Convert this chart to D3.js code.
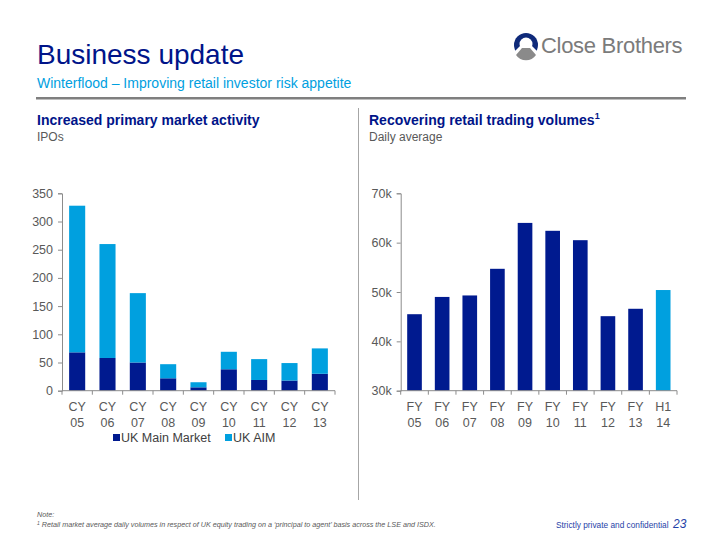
<!DOCTYPE html>
<html><head><meta charset="utf-8">
<script src="https://cdn.jsdelivr.net/npm/d3@7"></script>
<style>
html,body{margin:0;padding:0;background:#fff;}
svg{display:block;font-family:"Liberation Sans",Arial,sans-serif;}
</style></head>
<body>
<svg id="c" width="720" height="540"></svg>
<script>
// ---- data ----
const ipoYears = ["05","06","07","08","09","10","11","12","13"];
const ipoMain = [68, 58, 50, 22, 6, 38, 19, 18, 30];
const ipoAIM  = [260, 202, 123, 25, 9, 31, 37, 31, 45];
const ipoTicks = [0, 50, 100, 150, 200, 250, 300, 350];
const seriesNames = ["UK Main Market", "UK AIM"];

const volPrefix = ["FY","FY","FY","FY","FY","FY","FY","FY","FY","H1"];
const volYears  = ["05","06","07","08","09","10","11","12","13","14"];
const volValues = [45.5, 49.0, 49.3, 54.7, 64.0, 62.4, 60.5, 45.1, 46.6, 50.4];
const volTicks = [30, 40, 50, 60, 70];

const darkBlue = "#001a8f", lightBlue = "#00a0df", navy = "#001489", axisGrey = "#8c8c8c", labelGrey = "#595959";

const svg = d3.select("#c");

// ---- header ----
svg.append("text").attr("x", 37).attr("y", 64).attr("font-size", 28).attr("fill", navy).text("Business update");
svg.append("text").attr("x", 37).attr("y", 88).attr("font-size", 14).attr("fill", lightBlue)
  .text("Winterflood \u2013 Improving retail investor risk appetite");
svg.append("rect").attr("x", 36).attr("y", 97).attr("width", 650).attr("height", 2.5).attr("fill", "#7f7f7f");
svg.append("line").attr("x1", 358.5).attr("x2", 358.5).attr("y1", 108).attr("y2", 500).attr("stroke", "#a6a6a6").attr("stroke-width", 1);

// logo
const lg = svg.append("g");
lg.append("circle").attr("cx", 526).attr("cy", 45).attr("r", 12).attr("fill", "#0f2a7a");
lg.append("circle").attr("cx", 526).attr("cy", 44).attr("r", 6.5).attr("fill", "#fff");
lg.append("path").attr("d", "M514,52 L521,45 L531,45 L538,52 A12,12 0 0 1 514,52 Z").attr("fill", "#fff");
lg.append("path").attr("d", "M516,55 L522,48 L530,48 L536,55 A12,12 0 0 1 516,55 Z").attr("fill", "#8a8a8a");
svg.append("text").attr("x", 541).attr("y", 53).attr("font-size", 22).attr("fill", "#7b7b7b").attr("letter-spacing", -0.3).text("Close Brothers");

// section headers
svg.append("text").attr("x", 37).attr("y", 125).attr("font-size", 14).attr("font-weight", "bold").attr("fill", navy).text("Increased primary market activity");
svg.append("text").attr("x", 37).attr("y", 141).attr("font-size", 12).attr("fill", labelGrey).text("IPOs");
const h2 = svg.append("text").attr("x", 369).attr("y", 125).attr("font-size", 14).attr("font-weight", "bold").attr("fill", navy).text("Recovering retail trading volumes");
h2.append("tspan").attr("font-size", 9).attr("dy", -6).text("1");
svg.append("text").attr("x", 369).attr("y", 141).attr("font-size", 12).attr("fill", labelGrey).text("Daily average");

// ---- left chart ----
const L = {x0: 62, x1: 335, y0: 390.7, y1: 193.3};
const xL = d3.scaleBand().domain(ipoYears).range([L.x0, L.x1]).paddingInner(0.47).paddingOuter(0.235);
const yL = d3.scaleLinear().domain([0, 350]).range([L.y0, L.y1]);
const stackData = ipoYears.map((y, i) => ({year: y, main: ipoMain[i], aim: ipoAIM[i]}));
const stack = d3.stack().keys(["main", "aim"])(stackData);
const colors = [darkBlue, lightBlue];
const gL = svg.append("g");
stack.forEach((s, k) => {
  gL.append("g").selectAll("rect").data(s).join("rect")
    .attr("x", d => xL(d.data.year)).attr("width", xL.bandwidth())
    .attr("y", d => yL(d[1])).attr("height", d => yL(d[0]) - yL(d[1]))
    .attr("fill", colors[k]);
});
const yAxL = d3.axisLeft(yL).tickValues(ipoTicks).tickSize(4).tickPadding(5);
const gyL = svg.append("g").attr("transform", `translate(${L.x0},0)`).call(yAxL);
// x axis
const gxL = svg.append("g");
gxL.append("line").attr("x1", L.x0).attr("x2", L.x1).attr("y1", L.y0).attr("y2", L.y0).attr("stroke", axisGrey);
const stepL = xL.step();
d3.range(ipoYears.length + 1).forEach(i => {
  const xx = L.x0 + i * stepL;
  gxL.append("line").attr("x1", xx).attr("x2", xx).attr("y1", L.y0).attr("y2", L.y0 + 4).attr("stroke", axisGrey);
});
ipoYears.forEach(y => {
  const cx = xL(y) + xL.bandwidth() / 2;
  const t = gxL.append("text").attr("x", cx).attr("text-anchor", "middle").attr("font-size", 12.5).attr("fill", labelGrey);
  t.append("tspan").attr("x", cx).attr("y", 411).text("CY");
  t.append("tspan").attr("x", cx).attr("y", 427).text(y);
});

// legend
const legX = [113, 225];
seriesNames.forEach((n, i) => {
  svg.append("rect").attr("x", legX[i]).attr("y", 434).attr("width", 7).attr("height", 7).attr("fill", colors[i]);
  svg.append("text").attr("x", legX[i] + 8).attr("y", 442).attr("font-size", 12.5).attr("fill", "#404040").text(n);
});

// ---- right chart ----
const R = {x0: 400.7, x1: 677, y0: 390.7, y1: 193.3};
const xR = d3.scaleBand().domain(d3.range(volValues.length)).range([R.x0, R.x1]).paddingInner(0.47).paddingOuter(0.235);
const yR = d3.scaleLinear().domain([30, 70]).range([R.y0, R.y1]);
svg.append("g").selectAll("rect").data(volValues).join("rect")
  .attr("x", (d, i) => xR(i)).attr("width", xR.bandwidth())
  .attr("y", d => yR(d)).attr("height", d => yR(30) - yR(d))
  .attr("fill", (d, i) => i === volValues.length - 1 ? lightBlue : darkBlue);
const yAxR = d3.axisLeft(yR).tickValues(volTicks).tickFormat(d => d + "k").tickSize(4).tickPadding(5);
const gyR = svg.append("g").attr("transform", `translate(${R.x0},0)`).call(yAxR);
const gxR = svg.append("g");
gxR.append("line").attr("x1", R.x0).attr("x2", R.x1).attr("y1", R.y0).attr("y2", R.y0).attr("stroke", axisGrey);
const stepR = xR.step();
d3.range(volValues.length + 1).forEach(i => {
  const xx = R.x0 + i * stepR;
  gxR.append("line").attr("x1", xx).attr("x2", xx).attr("y1", R.y0).attr("y2", R.y0 + 4).attr("stroke", axisGrey);
});
volYears.forEach((y, i) => {
  const cx = xR(i) + xR.bandwidth() / 2;
  const t = gxR.append("text").attr("x", cx).attr("text-anchor", "middle").attr("font-size", 12.5).attr("fill", labelGrey);
  t.append("tspan").attr("x", cx).attr("y", 411).text(volPrefix[i]);
  t.append("tspan").attr("x", cx).attr("y", 427).text(y);
});

[gyL, gyR].forEach(g => {
  g.select(".domain").attr("stroke", axisGrey);
  g.selectAll(".tick line").attr("stroke", axisGrey);
  g.selectAll(".tick text").attr("fill", labelGrey).attr("font-size", 12.5).attr("font-family", "Liberation Sans, Arial, sans-serif");
});

// ---- footer ----
svg.append("text").attr("x", 37).attr("y", 517).attr("font-size", 7.2).attr("font-style", "italic").attr("fill", "#595959").text("Note:");
const fn = svg.append("text").attr("x", 37).attr("y", 527).attr("font-size", 7.2).attr("font-style", "italic").attr("fill", "#595959");
fn.append("tspan").attr("font-size", 5).attr("dy", -2).text("1");
fn.append("tspan").attr("dy", 2).text(" Retail market average daily volumes in respect of UK equity trading on a \u2018principal to agent\u2019 basis across the LSE and ISDX.");
svg.append("text").attr("x", 556).attr("y", 528).attr("font-size", 8.3).attr("fill", "#1f3fa8").text("Strictly private and confidential");
svg.append("text").attr("x", 673).attr("y", 528).attr("font-size", 12).attr("font-style", "italic").attr("fill", "#1f3fa8").text("23");
</script>
</body></html>
